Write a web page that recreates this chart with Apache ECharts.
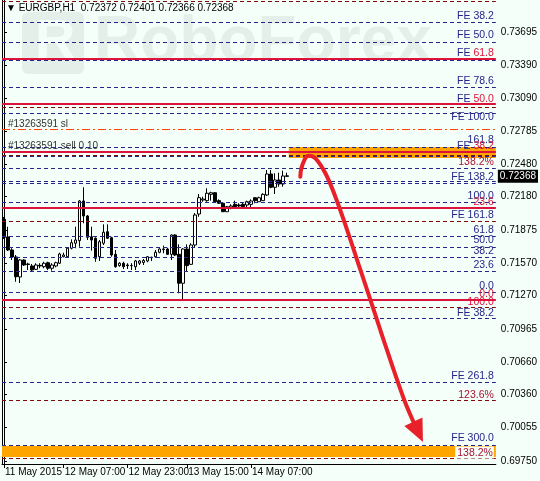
<!DOCTYPE html>
<html><head><meta charset="utf-8">
<script src="https://cdn.jsdelivr.net/npm/echarts@6/dist/echarts.min.js"></script>
<style>html,body{margin:0;padding:0;background:#F5FFFA}#c{width:540px;height:481px}</style>
</head><body><div id="c"></div><script>
const symbolName = 'EURGBP,H1';
// hourly candles
const opens  = [0.71972,0.71810,0.71690,0.71626,0.71442,0.71598,0.71561,0.71543,0.71512,0.71549,0.71536,0.71573,0.71522,0.71543,0.71568,0.71628,0.71628,0.71706,0.71752,0.71776,0.72141,0.72003,0.71812,0.71798,0.71628,0.71752,0.71858,0.71803,0.71650,0.71546,0.71568,0.71552,0.71546,0.71536,0.71568,0.71575,0.71589,0.71619,0.71628,0.71669,0.71693,0.71699,0.71650,0.71828,0.71650,0.71384,0.71699,0.71558,0.71736,0.72021,0.72150,0.72144,0.72202,0.72217,0.72144,0.72120,0.72042,0.72083,0.72110,0.72104,0.72110,0.72104,0.72110,0.72171,0.72134,0.72144,0.72196,0.72389,0.72267,0.72334,0.72297,0.72372];
const highs  = [0.71994,0.71904,0.71706,0.71644,0.71607,0.71604,0.71573,0.71561,0.71568,0.71568,0.71582,0.71582,0.71568,0.71582,0.71665,0.71665,0.71715,0.71788,0.71904,0.72150,0.72267,0.72012,0.71904,0.71807,0.71782,0.71926,0.71926,0.71812,0.71690,0.71577,0.71582,0.71568,0.71568,0.71598,0.71598,0.71607,0.71635,0.71628,0.71690,0.71706,0.71730,0.71711,0.71834,0.71834,0.71742,0.71706,0.71742,0.71752,0.72030,0.72205,0.72180,0.72258,0.72226,0.72221,0.72156,0.72125,0.72095,0.72110,0.72144,0.72120,0.72125,0.72144,0.72156,0.72175,0.72180,0.72212,0.72426,0.72426,0.72396,0.72401,0.72420,0.72401];
const lows   = [0.71791,0.71681,0.71598,0.71398,0.71386,0.71543,0.71506,0.71490,0.71506,0.71522,0.71522,0.71506,0.71500,0.71531,0.71561,0.71623,0.71623,0.71696,0.71706,0.71720,0.71936,0.71782,0.71684,0.71582,0.71589,0.71736,0.71791,0.71628,0.71527,0.71536,0.71515,0.71515,0.71506,0.71506,0.71552,0.71552,0.71577,0.71589,0.71619,0.71660,0.71660,0.71644,0.71598,0.71635,0.71292,0.71221,0.71490,0.71552,0.71708,0.71996,0.72134,0.72134,0.72144,0.72125,0.72113,0.72040,0.72040,0.72064,0.72083,0.72083,0.72083,0.72083,0.72074,0.72120,0.72134,0.72144,0.72187,0.72258,0.72205,0.72272,0.72272,0.72366];
const closes = [0.71807,0.71690,0.71626,0.71444,0.71598,0.71552,0.71557,0.71506,0.71552,0.71543,0.71568,0.71522,0.71552,0.71573,0.71653,0.71644,0.71706,0.71757,0.71782,0.72141,0.72003,0.71807,0.71782,0.71614,0.71766,0.71853,0.71798,0.71644,0.71536,0.71568,0.71536,0.71546,0.71547,0.71589,0.71589,0.71593,0.71628,0.71623,0.71669,0.71699,0.71699,0.71650,0.71828,0.71644,0.71384,0.71699,0.71546,0.71736,0.72012,0.72171,0.72159,0.72212,0.72217,0.72134,0.72120,0.72042,0.72088,0.72095,0.72088,0.72095,0.72088,0.72134,0.72141,0.72144,0.72171,0.72202,0.72389,0.72267,0.72334,0.72297,0.72371,0.72368];

const slotCount = 124;
const xTickIndex  = [0, 15, 31, 46, 62];
const xTickLabels = ['11 May 2015', '12 May 07:00', '12 May 23:00', '13 May 15:00', '14 May 07:00'];
const yMin = 0.69721, yMax = 0.73990;
const yTickValues = [0.73695,0.73390,0.73090,0.72785,0.72480,0.72180,0.71875,0.71570,0.71270,0.70965,0.70660,0.70360,0.70055,0.69750];

const navyLevels    = [0.73783,0.73604,0.73433,0.73190,0.72950,0.72638,0.72550,0.72444,0.72325,0.72306,0.72132,0.71814,0.71719,0.71621,0.71494,0.71304,0.71060,0.70473,0.69896];
const darkRedLevels = [0.73976,0.73006,0.72564,0.71952,0.71167,0.70310,0.69772];
const redLevels     = [0.73447,0.73033,0.72592,0.72076,0.71230];
const slLevels      = [0.72799];
const topBand = [0.72536, 0.72638];
const topBandStart = 71.5;
const bottomBand = [0.69786, 0.69887];

const labelTexts  = ['FE 38.2','FE 50.0','FE |61.8','FE 78.6','FE |50.0','FE 100.0','161.8','FE |38.2','138.2%','FE 138.2','100.0','23.6','FE 161.8','61.8','50.0','38.2','23.6','0.0','0.0','100.0','FE 38.2','FE 261.8','123.6%','FE 300.0','138.2%'];
const labelValues = [0.73843,0.73668,0.73498,0.73245,0.73079,0.72914,0.72702,0.72647,0.72500,0.72362,0.72187,0.72127,0.72012,0.71874,0.71777,0.71676,0.71552,0.71354,0.71285,0.71207,0.71106,0.70526,0.70356,0.69956,0.69827];
const labelKinds  = ['n','n','nr','n','nr','n','n','nr','p','n','n','r','n','n','n','n','n','n','r','r','n','n','p','n','pb'];

const orderTexts  = ['#13263591 sl', '#13263591 sell 0.10'];
const orderValues = [0.72849, 0.72644];

const arrowX = [74.4, 74.9, 76.5, 78.2, 80.7, 83.2, 86.1, 89.5, 93.25, 97, 100.5, 102.8];
const arrowY = [0.72364,0.72470,0.72558,0.72534,0.72396,0.72180,0.71880,0.71506,0.71092,0.70678,0.70310,0.70110];
const arrowTip = [105.2, 0.69924];

const NAVY = '#26268A', DRED = '#7E0A0A', RED = '#DC143C', PRED = '#A8122E';
const FONT = '"Liberation Sans", Arial, sans-serif';
const LFONT = '10.5px ' + FONT;

const categories = [];
for (let i = 0; i < slotCount; i++) categories.push('bar ' + i);
const candleData = opens.map((o, i) => [o, closes[i], lows[i], highs[i]]);
const arrowData = arrowX.map((x, i) => [x, arrowY[i]]);

const mk = (vals, color, type, width) => vals.map(v => ({yAxis: v, lineStyle: {color, type, width}}));
const levelLines = []
  .concat(mk(navyLevels, NAVY, [4, 3], 1))
  .concat(mk(darkRedLevels, DRED, [4, 3], 1))
  .concat(mk(redLevels, RED, 'solid', 2))
  .concat(mk(slLevels, '#FF4500', [8, 3, 2, 3], 1));

const last = opens.length - 1;
const chart = echarts.init(document.getElementById('c'), null, {renderer: 'canvas'});
const option = {
  backgroundColor: '#F5FFFA',
  animation: false,
  grid: {left: 2, right: 43, top: 0, bottom: 17},
  xAxis: [{
    type: 'category', data: categories, boundaryGap: true,
    axisLine: {lineStyle: {color: '#000', width: 1}},
    axisTick: {show: true, alignWithLabel: true, length: 4, lineStyle: {color: '#000'},
      interval: (idx) => xTickIndex.includes(idx)},
    axisLabel: {interval: (idx) => xTickIndex.includes(idx), showMinLabel: true, hideOverlap: false,
      align: 'left', margin: 3, padding: [0, 0, 0, 1], color: '#000', fontSize: 10, fontFamily: FONT,
      formatter: (v, idx) => { const k = xTickIndex.indexOf(idx); return k >= 0 ? xTickLabels[k] : ''; }},
    splitLine: {show: false}
  }, {
    type: 'value', min: -0.5, max: slotCount - 0.5, show: false
  }],
  yAxis: [{
    type: 'value', position: 'right', min: yMin, max: yMax, scale: true,
    axisLine: {show: true, lineStyle: {color: '#000'}},
    axisTick: {show: true, length: 3, customValues: yTickValues, lineStyle: {color: '#000'}},
    axisLabel: {customValues: yTickValues, margin: 5, color: '#000', fontSize: 10, fontFamily: FONT,
      formatter: v => v.toFixed(5)},
    splitLine: {show: false}
  }, {
    type: 'value', position: 'left', min: yMin, max: yMax, scale: true,
    axisLine: {show: true, onZero: false, lineStyle: {color: '#000'}},
    axisTick: {show: false}, axisLabel: {show: false}, splitLine: {show: false}
  }],
  series: [{
    type: 'candlestick', xAxisIndex: 0, yAxisIndex: 0, data: candleData, barWidth: 3, z: 2,
    itemStyle: {color: '#FFFFFF', color0: '#000000', borderColor: '#000000', borderColor0: '#000000', borderWidth: 1},
    markLine: {
      silent: true, symbol: 'none', animation: false, precision: 6,
      data: [{yAxis: closes[last], lineStyle: {color: 'rgba(0,0,0,0)', width: 1}}],
      label: {show: true, position: 'end', distance: 2, formatter: closes[last].toFixed(5),
        backgroundColor: '#000', color: '#fff', fontSize: 10, fontFamily: FONT, padding: [2, 2, 1, 2]}
    }
  }, {
    type: 'line', xAxisIndex: 1, yAxisIndex: 0, data: arrowData, z: 3, symbol: 'none',
    lineStyle: {color: 'rgba(0,0,0,0)', width: 1}, silent: true,
    markLine: {silent: true, symbol: 'none', animation: false, precision: 6, label: {show: false}, data: levelLines},
    markArea: {silent: true, animation: false, itemStyle: {color: '#FFA500'},
      data: [
        [{xAxis: topBandStart, yAxis: topBand[1]}, {xAxis: slotCount - 0.5, yAxis: topBand[0]}],
        [{xAxis: -0.5, yAxis: bottomBand[1]}, {xAxis: slotCount - 0.5, yAxis: bottomBand[0]}]
      ]}
  }, {
    type: 'line', xAxisIndex: 1, yAxisIndex: 0, z: 6, symbol: 'none', smooth: 0.4,
    lineStyle: {color: '#E8202A', width: 4, cap: 'round'},
    data: arrowData
  }]
};
chart.setOption(option);

// overlays positioned through the axes
const rightX = chart.convertToPixel({xAxisIndex: 1}, slotCount - 0.5);
const leftX = chart.convertToPixel({xAxisIndex: 1}, -0.5);
const py = v => chart.convertToPixel({yAxisIndex: 0}, v);
const els = [];
// watermark
els.push({type: 'rect', z: -5, shape: {x: leftX + 20, y: 12, width: 62, height: 62, r: 6}, style: {fill: 'rgba(120,135,135,0.13)'}});
els.push({type: 'text', z: -5, x: leftX + 33, y: 43, style: {text: 'R', font: 'bold 56px ' + FONT, fill: 'rgba(245,255,250,0.9)', verticalAlign: 'middle'}});
els.push({type: 'text', z: -5, x: leftX + 92, y: 43, style: {text: 'RoboForex', font: 'bold 64px ' + FONT, fill: 'rgba(120,135,135,0.13)', verticalAlign: 'middle'}});
// header
els.push({type: 'text', z: 50, x: leftX + 4, y: 8, style: {
  text: '\u25BC ' + symbolName + '  ' + [opens[last], highs[last], lows[last], closes[last]].map(v => v.toFixed(5)).join(' '),
  font: '10px ' + FONT, fill: '#000', verticalAlign: 'middle'}});
// order labels
orderTexts.forEach((t, i) => {
  els.push({type: 'text', z: 40, x: leftX + 6, y: py(orderValues[i]), style: {text: t, font: '10px ' + FONT, fill: '#333', verticalAlign: 'middle'}});
});
// level labels
labelTexts.forEach((t, i) => {
  const k = labelKinds[i];
  let text, rich = {n: {fill: NAVY, font: LFONT}, r: {fill: RED, font: LFONT}, p: {fill: PRED, font: LFONT}};
  if (k === 'nr') { const p = t.split('|'); text = '{n|' + p[0] + '}{r|' + p[1] + '}'; }
  else if (k === 'n') text = '{n|' + t + '}';
  else if (k === 'r') text = '{r|' + t + '}';
  else text = '{p|' + t + '}';
  const style = {text, rich, align: 'right', verticalAlign: 'middle', font: LFONT};
  if (k === 'pb') { style.backgroundColor = '#F5FFFA'; style.padding = [1, 1, 0, 2]; }
  els.push({type: 'text', z: 40, x: rightX - 2, y: py(labelValues[i]), style});
});
// arrow head
const b = chart.convertToPixel({xAxisIndex: 1, yAxisIndex: 0}, arrowData[arrowData.length - 1]);
const t = chart.convertToPixel({xAxisIndex: 1, yAxisIndex: 0}, arrowTip);
const dx = t[0] - b[0], dy = t[1] - b[1], len = Math.hypot(dx, dy);
const nx = -dy / len, ny = dx / len, hw = 10;
els.push({type: 'polygon', z: 60, shape: {points: [[t[0], t[1]], [b[0] + nx * hw, b[1] + ny * hw], [b[0] - nx * hw, b[1] - ny * hw]]}, style: {fill: '#E8202A'}});
chart.setOption({graphic: {elements: els}});
</script></body></html>
